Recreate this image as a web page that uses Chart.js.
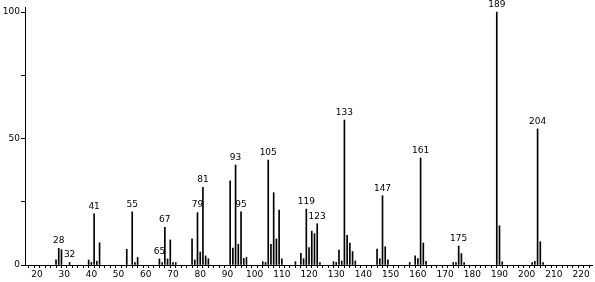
<!DOCTYPE html>
<html>
<head>
<meta charset="utf-8">
<script src="https://cdn.jsdelivr.net/npm/chart.js@4/dist/chart.umd.min.js"></script>
<style>
  html, body { margin: 0; padding: 0; background: #fff; }
  #wrap { width: 595px; height: 282px; }
</style>
</head>
<body>
<div id="wrap"><canvas id="msChart"></canvas></div>
<script>
// m/z values and relative intensities
const masses = [27, 28, 29, 32, 39, 40, 41, 42, 43, 53, 55, 56, 57,
  65, 66, 67, 68, 69, 70, 71, 77, 78, 79, 80, 81, 82, 83,
  91, 92, 93, 94, 95, 96, 97, 103, 104, 105, 106, 107, 108, 109, 110,
  115, 117, 118, 119, 120, 121, 122, 123, 124, 129, 130, 131, 132, 133, 134, 135, 136, 137,
  145, 146, 147, 148, 149, 157, 159, 160, 161, 162, 163, 173, 174, 175, 176, 177,
  189, 190, 191, 202, 203, 204, 205, 206];
const intensities = [2, 6.6, 6.1, 1, 2, 1, 20.2, 1.5, 8.8, 6.2, 21, 1, 3,
  2.4, 1, 14.9, 2.4, 9.9, 1, 1, 10.3, 2, 20.7, 5.1, 30.7, 3.6, 2.5,
  33.3, 6.7, 39.5, 8.2, 21, 2.6, 3, 1.3, 1, 41.5, 8.2, 28.6, 10.3, 21.7, 2.4,
  1.3, 4.6, 2.5, 22.1, 6.9, 13.4, 12.4, 16.3, 1, 1.3, 1, 5.9, 1.6, 57.3, 11.7, 8.7, 5.3, 1.6,
  6.3, 2.5, 27.4, 7.2, 2, 1, 3.6, 2.5, 42.3, 8.7, 1.5, 1, 1, 7.5, 4.5, 1,
  100, 15.5, 1.3, 1, 1.5, 53.8, 9.2, 1];
const labeledMasses = [28, 32, 41, 55, 65, 67, 79, 81, 93, 95, 105, 119, 123, 133, 147, 161, 175, 189, 204];
const xTickValues = [20, 30, 40, 50, 60, 70, 80, 90, 100, 110, 120, 130, 140, 150, 160, 170, 180, 190, 200, 210, 220];
const yTickLabels = [0, 50, 100];

const points = masses.map((m, i) => ({ x: m, y: intensities[i] }));

const peakLabels = {
  id: 'peakLabels',
  afterDatasetsDraw(chart) {
    const ctx = chart.ctx;
    const xs = chart.scales.x, ys = chart.scales.y;
    ctx.save();
    ctx.fillStyle = '#000';
    ctx.font = '9px "DejaVu Sans"';
    ctx.textAlign = 'center';
    ctx.textBaseline = 'bottom';
    labeledMasses.forEach(m => {
      const i = masses.indexOf(m);
      ctx.fillText(String(m), xs.getPixelForValue(m), ys.getPixelForValue(intensities[i]) - 3);
    });
    ctx.restore();
  }
};

new Chart(document.getElementById('msChart'), {
  type: 'bar',
  data: {
    datasets: [{
      data: points,
      backgroundColor: '#000',
      barThickness: 1,
      grouped: false
    }]
  },
  options: {
    responsive: true,
    maintainAspectRatio: false,
    animation: false,
    layout: { padding: { top: 7, right: 3, left: 0, bottom: 0 } },
    plugins: { legend: { display: false }, tooltip: { enabled: false } },
    scales: {
      x: {
        type: 'linear',
        min: 15.6,
        max: 224,
        offset: false,
        afterBuildTicks(scale) {
          const t = [];
          for (let v = 16; v <= 224; v += 2) t.push({ value: v });
          scale.ticks = t;
        },
        afterFit(scale) { scale.height = 17; },
        border: { color: '#000', width: 1 },
        grid: { drawOnChartArea: false, tickLength: 3, color: '#000' },
        ticks: {
          autoSkip: false,
          maxRotation: 0,
          padding: 1,
          color: '#000',
          font: { family: 'DejaVu Sans', size: 9 },
          callback: v => xTickValues.includes(v) ? String(v) : ''
        }
      },
      y: {
        min: 0,
        max: 102,
        afterBuildTicks(scale) {
          scale.ticks = [0, 25, 50, 75, 100].map(v => ({ value: v }));
        },
        afterFit(scale) { scale.width = 25; },
        border: { color: '#000', width: 1 },
        grid: { drawOnChartArea: false, tickLength: 4, color: '#000' },
        ticks: {
          padding: 1,
          color: '#000',
          font: { family: 'DejaVu Sans', size: 9 },
          callback: v => yTickLabels.includes(v) ? String(v) : ''
        }
      }
    }
  },
  plugins: [peakLabels]
});
</script>
</body>
</html>
